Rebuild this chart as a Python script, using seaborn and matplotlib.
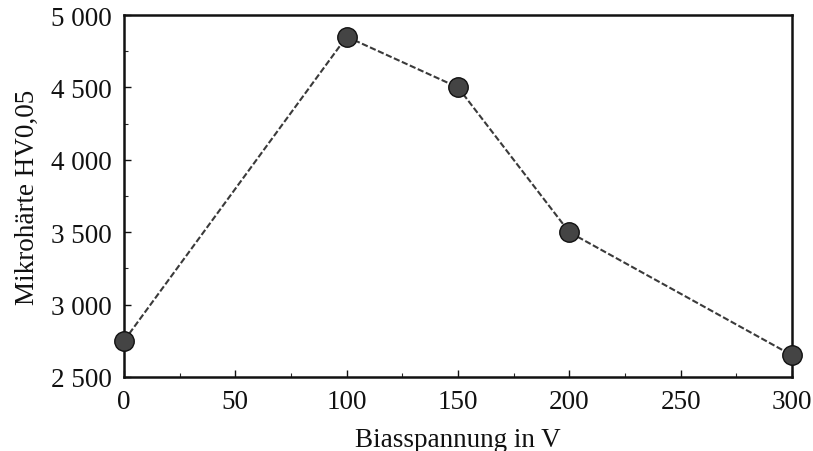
import matplotlib
matplotlib.use("Agg")
import matplotlib.pyplot as plt
from matplotlib.ticker import FuncFormatter, MultipleLocator
import seaborn as sns
import pandas as pd

# Bias voltage (V) and resulting micro-hardness HV0,05
bias_voltage = [0, 100, 150, 200, 300]
hardness = [2750, 4850, 4500, 3500, 2650]

x_ticks = [0, 50, 100, 150, 200, 250, 300]
y_ticks = [2500, 3000, 3500, 4000, 4500, 5000]

df = pd.DataFrame({"Biasspannung": bias_voltage, "Haerte": hardness})

sns.set_theme(style="ticks")
plt.rcParams["font.family"] = ["Liberation Serif", "DejaVu Serif"]

fig = plt.figure(figsize=(8.13, 4.52), dpi=100)
ax = fig.add_axes([124 / 813, 1 - 378 / 452, (792 - 124) / 813, (378 - 16) / 452])

sns.lineplot(data=df, x="Biasspannung", y="Haerte", ax=ax,
             color="#3a3a3a", linewidth=1.5, linestyle=(0, (3, 1.2)),
             marker="o", markersize=14, markerfacecolor="#444444",
             markeredgecolor="#111111", markeredgewidth=1.0, clip_on=False,
             zorder=3)

ax.set_xlim(0, 300)
ax.set_ylim(2500, 5000)
ax.set_xticks(x_ticks)
ax.set_yticks(y_ticks)
ax.xaxis.set_minor_locator(MultipleLocator(25))
ax.yaxis.set_minor_locator(MultipleLocator(250))
ax.yaxis.set_major_formatter(FuncFormatter(lambda v, p: f"{int(v):,}".replace(",", " ")))

ax.tick_params(axis="both", which="major", direction="in", length=5, width=1.0,
               labelsize=19.5, colors="#111111", top=False, right=False)
ax.tick_params(axis="both", which="minor", direction="in", length=3, width=0.8,
               top=False, right=False)
ax.tick_params(axis="x", which="major", pad=9)
ax.tick_params(axis="y", which="major", pad=9)

for side in ["left", "right", "top", "bottom"]:
    ax.spines[side].set_visible(True)
    ax.spines[side].set_color("#111111")
    ax.spines[side].set_linewidth(1.8)

ax.set_xlabel("Biasspannung in V", fontsize=19.5, color="#111111", labelpad=9)
ax.set_ylabel("Mikrohärte HV0,05", fontsize=19.5, color="#111111", labelpad=8)

fig.savefig("out.png", dpi=100, facecolor="white")
